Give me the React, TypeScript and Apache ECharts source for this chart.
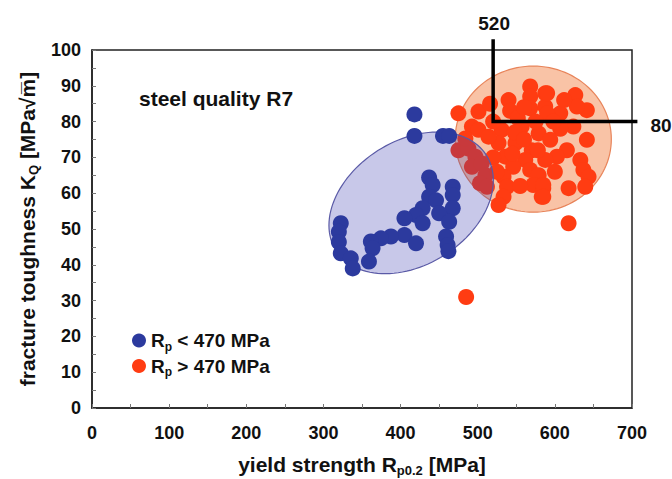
import React, { useEffect, useRef } from "react";
import * as echarts from "echarts";

// ---- data ----
const bluePoints: number[][] = [
  [418, 82], [418, 76], [455, 76], [463, 76],
  [437, 64.4], [441.6, 62.3], [467.6, 61.8], [467.6, 59.5], [437, 59], [446, 58],
  [467.6, 55.8], [450, 54.4], [428.6, 55.8], [420, 53.9], [405, 53], [463, 52],
  [428.6, 51.6], [459, 47.9], [461, 45.5], [462, 43.8], [405, 48.3], [420, 46],
  [387.5, 47.9], [374.5, 47.4], [361.5, 46.5], [363.7, 44.6], [359, 40.9],
  [322.5, 51.6], [320, 49.2], [320, 46.4], [322.5, 43.2], [335.5, 41.8], [338, 39],
];

const redPoints: number[][] = [
  [475, 82.3], [501, 82.8], [516, 85], [540, 86], [542, 83], [568, 89.8], [568, 87],
  [568, 83.7], [587.5, 87.9], [587.5, 84.2], [492.5, 78.6], [501, 77.7], [531, 77.7],
  [557, 78.6], [579, 76.7], [527, 74], [549, 74], [570, 72], [536, 70.2], [561.6, 69.3],
  [546, 67.4], [568, 66.5], [579, 65], [533.5, 64.6], [538, 61.8], [572, 62.3],
  [585, 61.4], [533.5, 59], [583, 59], [527, 56.7],
  [475, 72], [488, 72.5], [497, 70.2], [492.5, 67.4], [505, 68.3], [510, 65],
  [503, 62.8], [512, 61.8], [484, 75.3], [514, 75.8],
  [590, 87.9], [626.5, 87.4], [641.5, 83.2], [628.6, 84.2], [607, 82.3], [590, 82.3],
  [624, 78.6], [641.5, 74.9], [607, 78], [594, 74.9], [615.6, 72], [602.6, 70.2],
  [587.5, 69.3], [633, 69.3], [637, 66.5], [643.7, 64.6], [639.4, 61.8], [617.8, 61.4],
  [585, 62.3], [585, 59], [617.8, 51.6], [485, 31],
  [552, 81], [560, 84], [575, 80], [598, 80], [612, 86], [520, 80], [548, 77],
  [560, 75], [600, 66], [555, 62], [520, 70], [545, 71], [578, 72], [525, 66],
];

// ellipses: [centerX, centerY, axis1X, axis1Y, axis2X, axis2Y] in data units
const blueEllipse: number[] = [413.7, 57.3, 97.4, 13.35, 43.2, -14.6];
const redEllipse: number[] = [572, 75.1, 101.2, 0, 0, 20.4];

// reference lines: [x, y, top y, right x]
const refLines: number[] = [520, 80, 103, 707];

const xTicks = { min: 0, max: 700, interval: 100 };
const yTicks = { min: 0, max: 100, interval: 10 };

const seriesNames = ["Rp < 470 MPa", "Rp > 470 MPa"];

const FONT = '"Liberation Sans", Arial, Helvetica, sans-serif';

function ellipseRender(fill: string, stroke: string) {
  return (params: any, api: any) => {
    const cx = api.value(0), cy = api.value(1);
    const ax = api.value(2), ay = api.value(3);
    const bx = api.value(4), by = api.value(5);
    const pts: number[][] = [];
    const N = 120;
    for (let i = 0; i < N; i++) {
      const t = (i / N) * Math.PI * 2;
      const c = Math.cos(t), s = Math.sin(t);
      pts.push(api.coord([cx + ax * c + bx * s, cy + ay * c + by * s]));
    }
    return {
      type: "polygon",
      shape: { points: pts },
      style: { fill, stroke, lineWidth: 1.2 },
    };
  };
}

export default function App() {
  const ref = useRef<HTMLDivElement>(null);
  useEffect(() => {
    if (!ref.current) return;
    const chart = echarts.init(ref.current, undefined, { renderer: "svg" });
    const richMain = { fontFamily: FONT, fontWeight: "bold", fontSize: 21, color: "#111", lineHeight: 26 };
    const richSub = { fontFamily: FONT, fontWeight: "bold", fontSize: 13, color: "#111", lineHeight: 15, verticalAlign: "bottom" };
    chart.setOption({
      animation: false,
      backgroundColor: "#fff",
      title: {
        text: "steel quality R7",
        left: 134,
        top: 83,
        textStyle: { fontFamily: FONT, fontWeight: "bold", fontSize: 21, color: "#111" },
      },
      legend: {
        data: seriesNames,
        orient: "vertical",
        left: 127,
        top: 326,
        icon: "circle",
        itemWidth: 14,
        itemHeight: 14,
        itemGap: 4,
        formatter: (name: string) =>
          name.startsWith("Rp <") ? "{m|R}{s|p}{m| < 470 MPa}" : "{m|R}{s|p}{m| > 470 MPa}",
        textStyle: {
          rich: {
            m: { fontFamily: FONT, fontWeight: "bold", fontSize: 19, color: "#111", lineHeight: 24 },
            s: { fontFamily: FONT, fontWeight: "bold", fontSize: 12, color: "#111", lineHeight: 13, verticalAlign: "bottom" },
          },
        },
      },
      grid: {
        left: 92,
        right: 40,
        top: 50,
        bottom: 71,
        containLabel: false,
        outerBoundsMode: "none",
        show: true,
        borderColor: "#222",
        borderWidth: 1.5,
        backgroundColor: "transparent",
      },
      xAxis: {
        type: "value",
        min: xTicks.min,
        max: xTicks.max,
        interval: xTicks.interval,
        name: "{m|yield strength R}{s|p0.2}{m| [MPa]}",
        nameLocation: "middle",
        nameGap: 43,
        nameTextStyle: { rich: { m: richMain, s: richSub } },
        axisLine: { show: true, lineStyle: { color: "#222", width: 1.5 } },
        axisTick: { show: true, inside: true, length: 4, lineStyle: { color: "#777" } },
        minorTick: { show: true, splitNumber: 2, length: 4, lineStyle: { color: "#777" } },
        splitLine: { show: false },
        axisLabel: { margin: 16, fontFamily: FONT, fontWeight: "bold", fontSize: 18, color: "#111" },
      },
      yAxis: {
        type: "value",
        min: yTicks.min,
        max: yTicks.max,
        interval: yTicks.interval,
        name: "{m|fracture toughness K}{s|Q}{m| [MPa√m\u0305]}",
        nameLocation: "middle",
        nameGap: 52,
        nameTextStyle: { rich: { m: richMain, s: richSub } },
        axisLine: { show: true, lineStyle: { color: "#222", width: 1.5 } },
        axisTick: { show: true, inside: true, length: 4, lineStyle: { color: "#777" } },
        minorTick: { show: true, splitNumber: 2, length: 4, lineStyle: { color: "#777" } },
        splitLine: { show: false },
        axisLabel: { margin: 11, fontFamily: FONT, fontWeight: "bold", fontSize: 18, color: "#111" },
      },
      series: [
        {
          type: "custom",
          name: "redEllipse",
          z: 1,
          silent: true,
          data: [redEllipse],
          renderItem: ellipseRender("#f9c3a6", "#e8845a"),
        },
        {
          type: "scatter",
          name: seriesNames[1],
          z: 2,
          symbolSize: 16,
          itemStyle: { color: "#ff3c12", opacity: 1 },
          data: redPoints,
        },
        {
          type: "custom",
          name: "blueEllipse",
          z: 3,
          silent: true,
          data: [blueEllipse],
          renderItem: ellipseRender("rgba(52,52,172,0.27)", "#5a5aa6"),
        },
        {
          type: "scatter",
          name: seriesNames[0],
          z: 4,
          symbolSize: 16,
          itemStyle: { color: "#2c3a9e", opacity: 1 },
          data: bluePoints,
        },
        {
          type: "custom",
          name: "refLines",
          z: 5,
          silent: true,
          clip: false,
          data: [refLines],
          renderItem: (params: any, api: any) => {
            const x = api.value(0), y = api.value(1), top = api.value(2), right = api.value(3);
            const pTop = api.coord([x, top]);
            const pCorner = api.coord([x, y]);
            const pRight = api.coord([right, y]);
            return {
              type: "group",
              children: [
                {
                  type: "polyline",
                  shape: { points: [pTop, pCorner, pRight] },
                  style: { stroke: "#000", lineWidth: 3.5, fill: "none" },
                },
                {
                  type: "text",
                  x: pTop[0] + 1,
                  y: pTop[1] - 6,
                  style: {
                    text: String(x),
                    align: "center",
                    verticalAlign: "bottom",
                    textAlign: "center",
                    textVerticalAlign: "bottom",
                    font: `bold 19px ${FONT}`,
                    fill: "#111",
                  },
                },
                {
                  type: "text",
                  x: pRight[0] + 13,
                  y: pRight[1] + 4,
                  style: {
                    text: String(y),
                    align: "left",
                    verticalAlign: "middle",
                    textAlign: "left",
                    textVerticalAlign: "middle",
                    font: `bold 19px ${FONT}`,
                    fill: "#111",
                  },
                },
              ],
            };
          },
        },
      ],
    });
    return () => chart.dispose();
  }, []);
  return (
    <div
      ref={ref}
      style={{ position: "fixed", left: 0, top: 0, width: 672, height: 479 }}
    />
  );
}
